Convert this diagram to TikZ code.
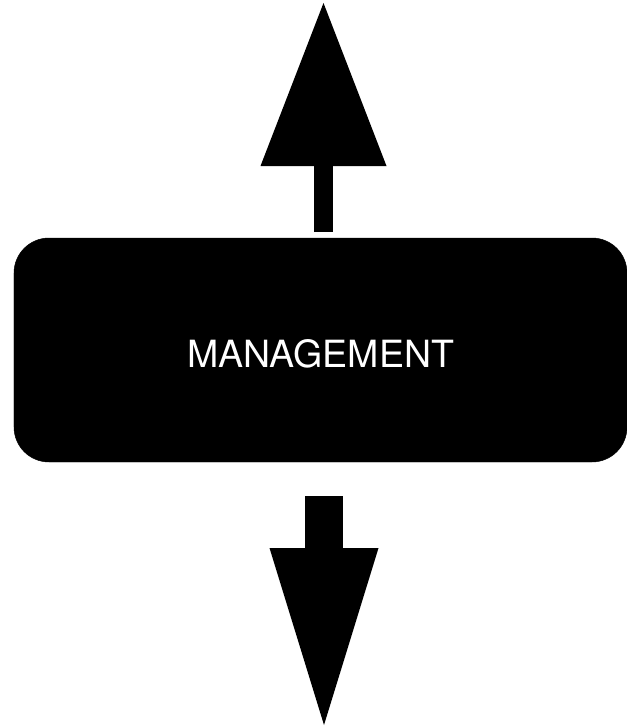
\documentclass[tikz,border=0pt]{standalone}
\usepackage{fontspec}
\newfontfamily\mgmtfont{TeX Gyre Heros}
\usepackage{tikz}
\usetikzlibrary{positioning,arrows.meta}

\begin{document}
\begin{tikzpicture}[x=0.3mm, y=-0.3mm,
    every node/.style={font=\mgmtfont},
    mgmt/.style={fill=black, draw=black, rounded corners=10.5mm,
                 minimum width=183.9mm, minimum height=67.2mm,
                 text=white, font=\mgmtfont\fontsize{32}{36}\selectfont,
                 text height=10.4mm, text depth=0pt, inner sep=0pt},
    uparr/.style={draw=black, line width=5.7mm,
                  -{Triangle[length=48.9mm, width=37.8mm, line width=0pt]}},
    downarr/.style={draw=black, line width=11.4mm,
                    -{Triangle[length=53.1mm, width=32.7mm, line width=0pt]}}]
  \useasboundingbox (0,0) rectangle (627,726);
  \node[mgmt] (box) at (320.5,350) {MANAGEMENT};
  \coordinate (upstart) at (323.5,232);
  \coordinate (uptip) at (323.5,3);
  \coordinate (downstart) at (324,496);
  \coordinate (downtip) at (324,725);
  \draw[uparr] (upstart) -- (uptip);
  \draw[downarr] (downstart) -- (downtip);
\end{tikzpicture}
\end{document}
